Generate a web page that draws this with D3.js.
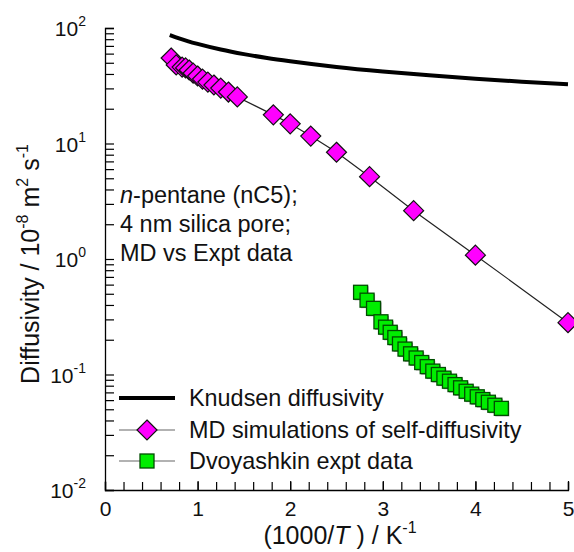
<!DOCTYPE html>
<html><head><meta charset="utf-8">
<script src="https://cdn.jsdelivr.net/npm/d3@7"></script>
<style>body{margin:0;background:#fff}svg{font-family:Arial,"Liberation Sans",sans-serif}</style>
</head><body>
<svg id="c" width="574" height="552"></svg>
<script>
// Knudsen diffusivity (1000/T, D)
const knudsenX = [0.70, 0.8, 0.9, 1.0, 1.25, 1.5, 1.75, 2.0, 2.5, 3.0, 3.5, 4.0, 4.5, 5.0];
const knudsenD = [87, 81.4, 76.7, 72.8, 65.1, 59.4, 55.0, 51.5, 46.0, 42.0, 38.9, 36.4, 34.3, 32.6];
// MD simulations of self-diffusivity
const mdX = [0.714, 0.769, 0.833, 0.870, 0.909, 0.952, 1.0, 1.053, 1.111, 1.176, 1.25, 1.333, 1.429, 1.818, 2.0, 2.222, 2.5, 2.857, 3.333, 4.0, 5.0];
const mdD = [55, 47.9, 45.9, 45.1, 43.3, 40.7, 38.4, 36.1, 34, 32.1, 30.2, 27.9, 25.3, 17.7, 14.8, 11.6, 8.4, 5.16, 2.62, 1.08, 0.281];
// Dvoyashkin expt data
const exX = [2.76, 2.83, 2.90, 2.98, 3.03, 3.08, 3.13, 3.18, 3.24, 3.30, 3.36, 3.42, 3.48, 3.54, 3.60, 3.66, 3.72, 3.78, 3.84, 3.90, 3.96, 4.02, 4.08, 4.14, 4.21, 4.28];
const exD = [0.515, 0.44, 0.374, 0.286, 0.257, 0.232, 0.209, 0.184, 0.166, 0.151, 0.139, 0.127, 0.117, 0.107, 0.100, 0.093, 0.0875, 0.0818, 0.0767, 0.0716, 0.0676, 0.0641, 0.0607, 0.0575, 0.0542, 0.0509];
const xTicks = [0, 1, 2, 3, 4, 5];
const yTicksExp = [-2, -1, 0, 1, 2];
const legendLabels = ["Knudsen diffusivity", "MD simulations of self-diffusivity", "Dvoyashkin expt data"];

const svg = d3.select("#c");
const x = d3.scaleLinear().domain([0, 5]).range([105, 568]);
const y = d3.scaleLog().domain([0.01, 100]).range([490, 28]);
const F = "Arial, 'Liberation Sans', sans-serif";

// axes
const minorX = d3.range(0, 5.001, 0.2);
svg.append("g").attr("transform", "translate(0,490)")
  .call(d3.axisBottom(x).tickValues(minorX).tickSize(-8).tickFormat(""))
  .call(g => g.select(".domain").attr("stroke-width", 1.3))
  .call(g => g.selectAll(".tick line").attr("stroke-width", 1.2));
svg.append("g").attr("transform", "translate(0,490)")
  .call(d3.axisBottom(x).tickValues(xTicks).tickSize(-9).tickPadding(11).tickFormat(d3.format("d")))
  .call(g => g.select(".domain").remove())
  .call(g => g.selectAll(".tick line").attr("stroke-width", 1.2))
  .call(g => g.selectAll("text").attr("font-size", 21).attr("font-family", F).attr("fill", "#111"));

const minorY = [];
for (let e = -2; e < 2; e++) for (let m = 1; m <= 9; m++) minorY.push(m * Math.pow(10, e));
minorY.push(100);
svg.append("g").attr("transform", "translate(105,0)")
  .call(d3.axisLeft(y).tickValues(minorY).tickSize(-9).tickFormat(""))
  .call(g => g.select(".domain").attr("stroke-width", 1.3))
  .call(g => g.selectAll(".tick line").attr("stroke-width", 1.2));
const yl = svg.append("g");
yTicksExp.forEach(e => {
  const t = yl.append("text").attr("x", 86).attr("y", y(Math.pow(10, e)) + 8)
    .attr("text-anchor", "end").attr("font-size", 21).attr("font-family", F).attr("fill", "#111");
  t.append("tspan").text("10");
  t.append("tspan").attr("dy", -10).attr("font-size", 14).text(e);
});

// Knudsen
svg.append("path").datum(knudsenX.map((v, i) => [v, knudsenD[i]]))
  .attr("fill", "none").attr("stroke", "#000").attr("stroke-width", 4)
  .attr("d", d3.line().x(d => x(d[0])).y(d => y(d[1])).curve(d3.curveMonotoneX));

// MD
const md = mdX.map((v, i) => [v, mdD[i]]);
svg.append("path").datum(md).attr("fill", "none").attr("stroke", "#222").attr("stroke-width", 1.2)
  .attr("d", d3.line().x(d => x(d[0])).y(d => y(d[1])));
function diamondPath(s) { return `M0,${-s}L${s},0L0,${s}L${-s},0Z`; }
svg.append("g").selectAll("path").data(md).join("path")
  .attr("transform", d => `translate(${x(d[0])},${y(d[1])})`)
  .attr("d", diamondPath(10)).attr("fill", "#ff00ff").attr("stroke", "#111").attr("stroke-width", 1.2);

// Expt
const ex = exX.map((v, i) => [v, exD[i]]);
svg.append("path").datum(ex).attr("fill", "none").attr("stroke", "#222").attr("stroke-width", 1)
  .attr("d", d3.line().x(d => x(d[0])).y(d => y(d[1])));
const eg = svg.append("g");
eg.selectAll("rect.sh").data(ex).join("rect").attr("class", "sh")
  .attr("x", d => x(d[0]) - 6).attr("y", d => y(d[1]) - 6).attr("width", 14).attr("height", 14)
  .attr("fill", "#9a9a9a");
eg.selectAll("rect.sq").data(ex).join("rect").attr("class", "sq")
  .attr("x", d => x(d[0]) - 7).attr("y", d => y(d[1]) - 7).attr("width", 14).attr("height", 14)
  .attr("fill", "#00ee00").attr("stroke", "#004d00").attr("stroke-width", 1.3);

// legend
const lg = svg.append("g");
const ly = [398, 430, 461];
ly.forEach((yy, i) => {
  lg.append("line").attr("x1", 119).attr("x2", 175).attr("y1", yy).attr("y2", yy)
    .attr("stroke", i === 0 ? "#000" : "#666").attr("stroke-width", i === 0 ? 4 : 1.2);
  if (i === 1) lg.append("path").attr("transform", `translate(147,${yy})`).attr("d", diamondPath(10))
    .attr("fill", "#ff00ff").attr("stroke", "#111").attr("stroke-width", 1.2);
  if (i === 2) lg.append("rect").attr("x", 140).attr("y", yy - 7).attr("width", 14).attr("height", 14)
    .attr("fill", "#00ee00").attr("stroke", "#004d00").attr("stroke-width", 1.3);
  lg.append("text").attr("x", 189).attr("y", yy + 8).attr("font-size", 23.4).attr("font-family", F)
    .attr("fill", "#111").text(legendLabels[i]);
});

// annotation
const an = svg.append("g").attr("font-size", 23.5).attr("font-family", F).attr("fill", "#111");
const a1 = an.append("text").attr("x", 120).attr("y", 203);
a1.append("tspan").attr("font-style", "italic").text("n");
a1.append("tspan").text("-pentane (nC5);");
an.append("text").attr("x", 120).attr("y", 232).text("4 nm silica pore;");
an.append("text").attr("x", 120).attr("y", 261).text("MD vs Expt data");

// x label
const xl = svg.append("text").attr("x", 340).attr("y", 544).attr("text-anchor", "middle")
  .attr("font-size", 25).attr("font-family", F).attr("fill", "#111");
xl.append("tspan").text("(1000/");
xl.append("tspan").attr("font-style", "italic").text("T");
xl.append("tspan").text(" ) / K");
xl.append("tspan").attr("dy", -11).attr("font-size", 16).text("-1");

// y label
const ylab = svg.append("text").attr("transform", "translate(39,264) rotate(-90)")
  .attr("text-anchor", "middle").attr("font-size", 25).attr("font-family", F).attr("fill", "#111");
ylab.append("tspan").text("Diffusivity / 10");
ylab.append("tspan").attr("dy", -11).attr("font-size", 16).text("-8");
ylab.append("tspan").attr("dy", 11).text(" m");
ylab.append("tspan").attr("dy", -11).attr("font-size", 16).text("2");
ylab.append("tspan").attr("dy", 11).text(" s");
ylab.append("tspan").attr("dy", -11).attr("font-size", 16).text("-1");
</script>
</body></html>
